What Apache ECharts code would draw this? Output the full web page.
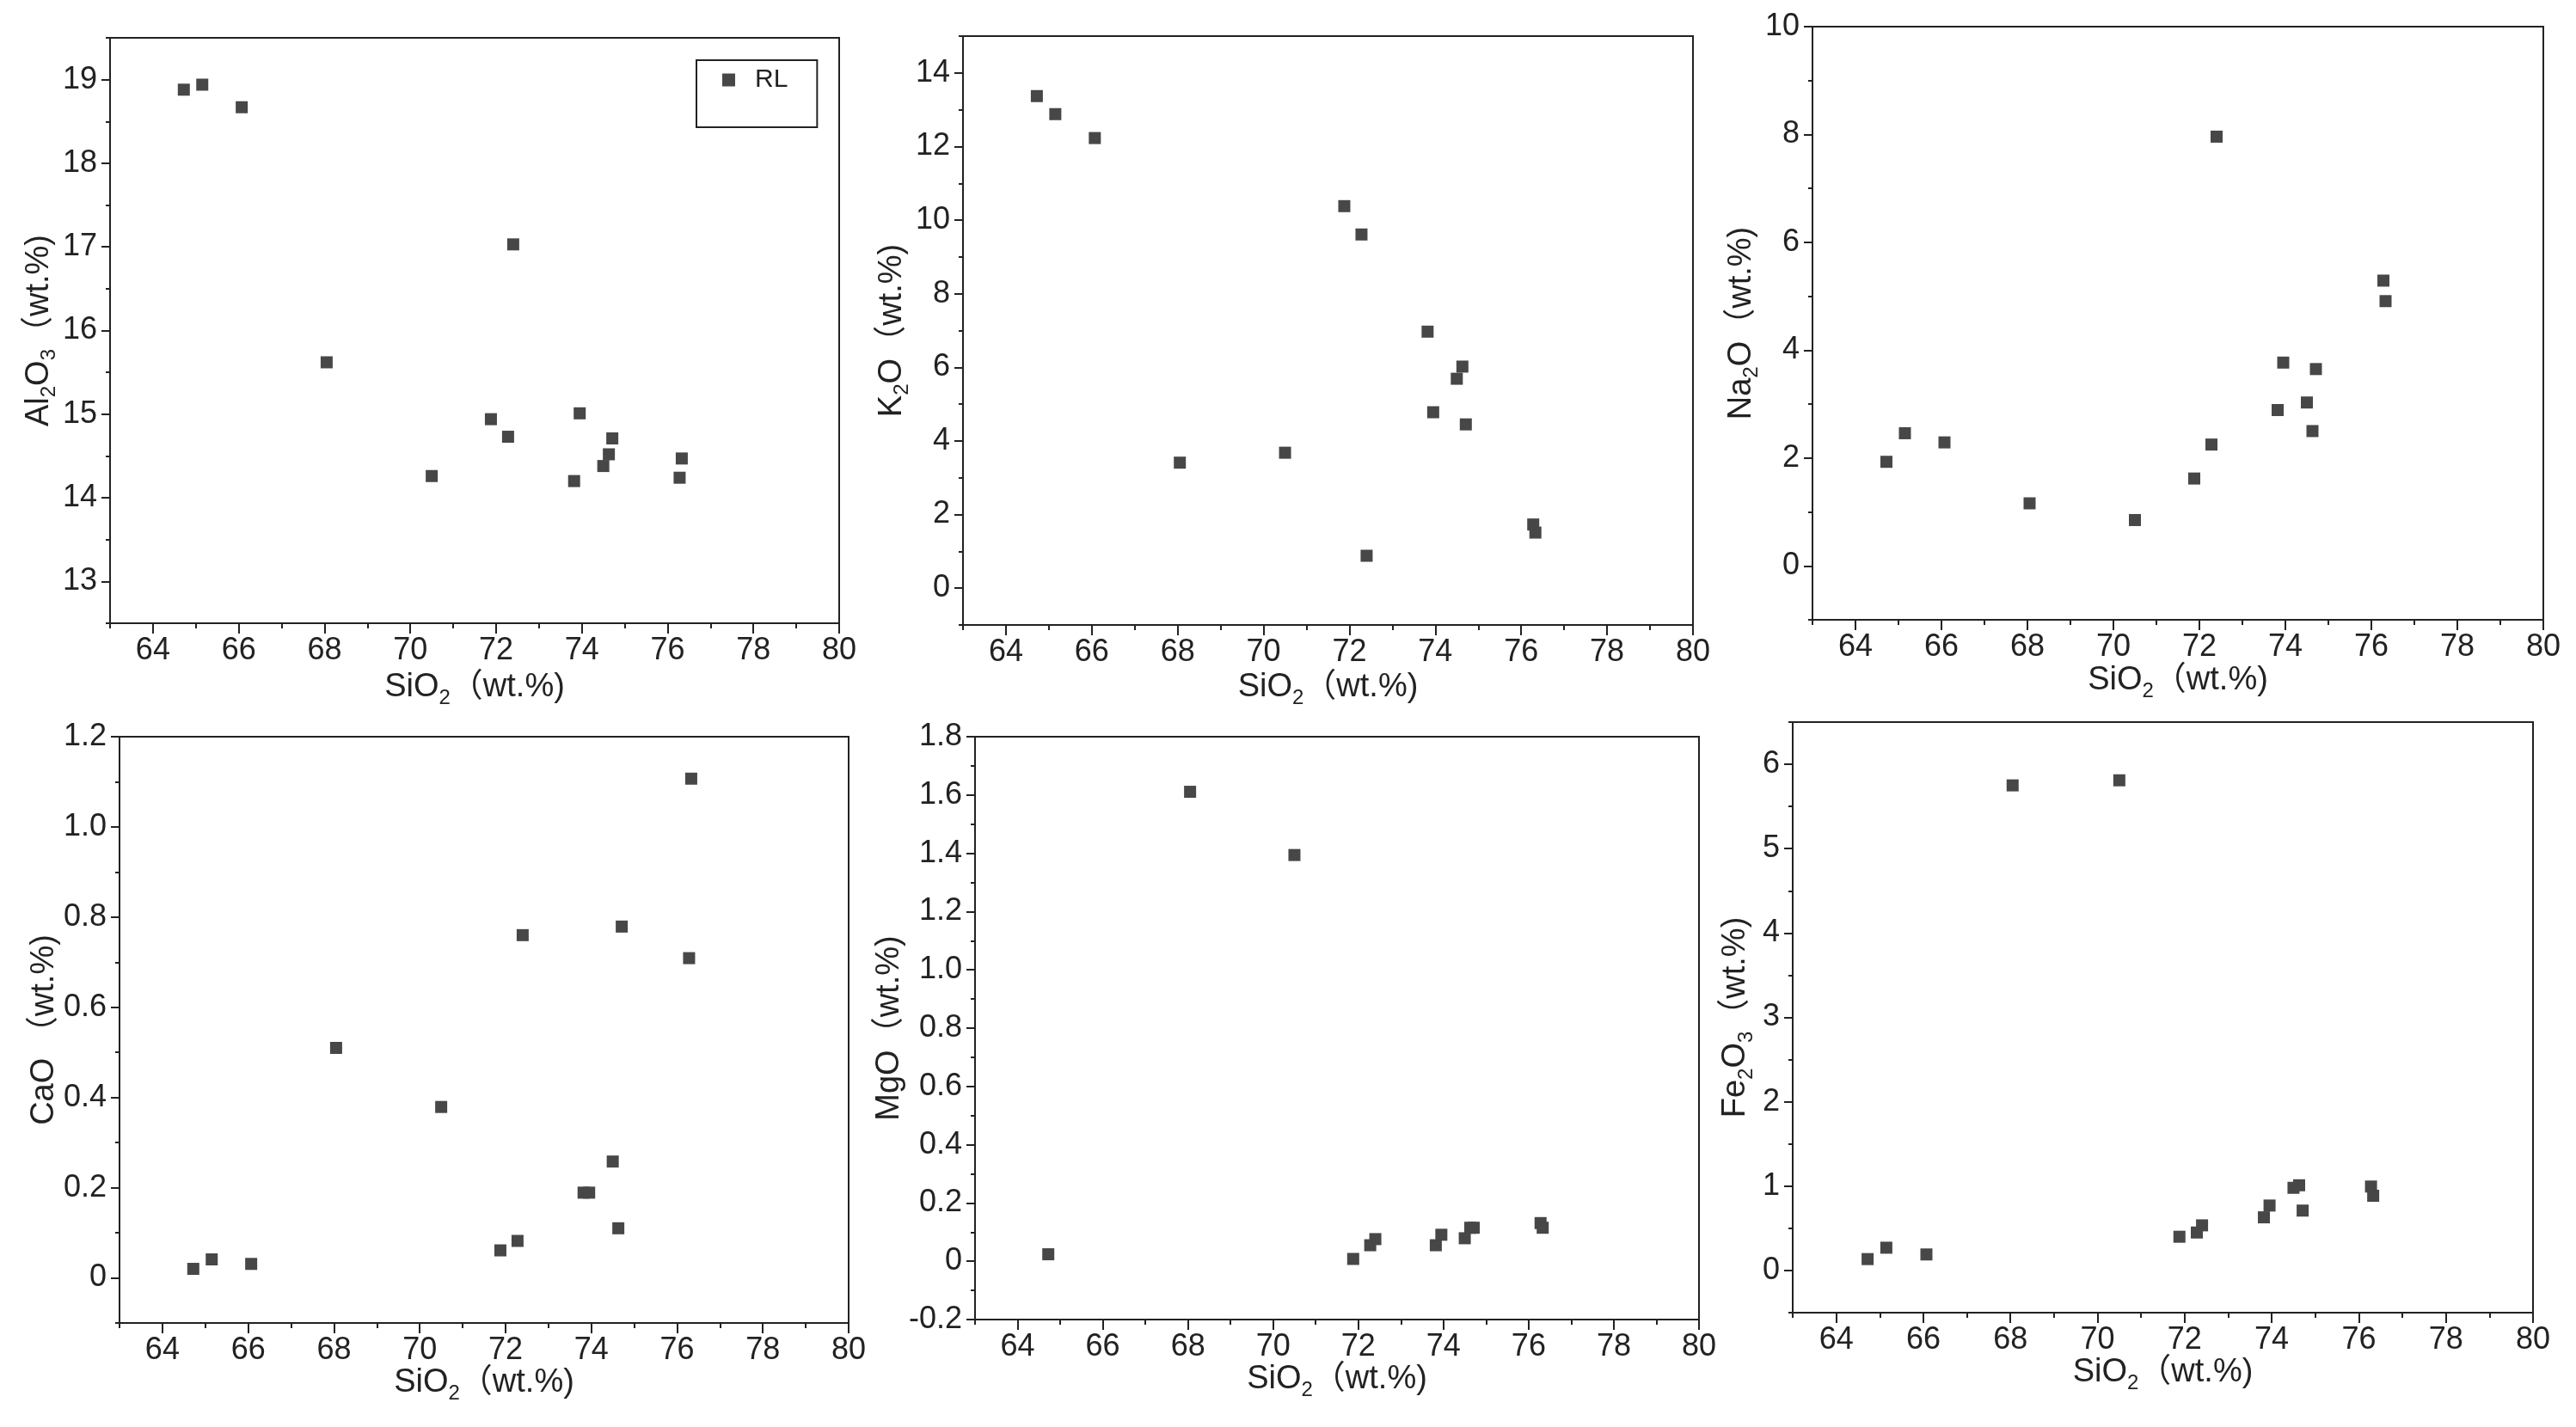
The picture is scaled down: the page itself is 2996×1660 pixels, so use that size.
<!DOCTYPE html>
<html>
<head>
<meta charset="utf-8">
<script src="https://cdn.jsdelivr.net/npm/echarts@6/dist/echarts.min.js"></script>
<style>
html,body{margin:0;padding:0;background:#fff;}
#chart{width:2996px;height:1660px;}
</style>
</head>
<body>
<div id="chart"></div>
<script>
// ---- data ----
const SIO2  = [64.72, 65.15, 66.07, 68.05, 70.50, 71.88, 72.28, 72.40, 73.82, 73.95, 74.50, 74.63, 74.71, 76.28, 76.33];
const AL2O3 = [18.88, 18.94, 18.67, 15.62, 14.26, 14.94, 14.73, 17.03, 14.20, 15.01, 14.38, 14.52, 14.71, 14.24, 14.47];
const K2O   = [13.37, 12.88, 12.23, 3.41, 3.68, 10.38, 9.61, 0.88, 6.97, 4.78, 5.69, 6.02, 4.45, 1.73, 1.51];
const NA2O  = [1.93, 2.46, 2.29, 1.16, 0.85, 1.62, 2.25, 7.96, 2.89, 3.77, 3.03, 2.50, 3.65, 5.29, 4.91];
const CAO   = [0.020, 0.041, 0.031, 0.510, 0.379, 0.061, 0.082, 0.760, 0.189, 0.189, 0.258, 0.110, 0.779, 0.709, 1.107];
const MGO   = [0.024, null, null, 1.611, 1.394, 0.008, 0.055, 0.076, 0.055, 0.091, 0.079, 0.115, 0.115, 0.131, 0.115];
const FE2O3 = [0.135, 0.27, 0.19, 5.75, 5.81, 0.40, 0.45, 0.535, 0.63, 0.77, 0.98, 1.01, 0.71, 0.995, 0.886];

// ---- tick labels ----
const X_TICKS = [64, 66, 68, 70, 72, 74, 76, 78, 80];
const X_MINOR = [63, 65, 67, 69, 71, 73, 75, 77, 79];
const AL2O3_TICKS = [13, 14, 15, 16, 17, 18, 19];
const AL2O3_MINOR = [12.5, 13.5, 14.5, 15.5, 16.5, 17.5, 18.5, 19.5];
const K2O_TICKS = [0, 2, 4, 6, 8, 10, 12, 14];
const K2O_MINOR = [-1, 1, 3, 5, 7, 9, 11, 13, 15];
const NA2O_TICKS = [0, 2, 4, 6, 8, 10];
const NA2O_MINOR = [-1, 1, 3, 5, 7, 9];
const CAO_TICKS = [0, 0.2, 0.4, 0.6, 0.8, 1.0, 1.2];
const CAO_MINOR = [-0.1, 0.1, 0.3, 0.5, 0.7, 0.9, 1.1];
const MGO_TICKS = [-0.2, 0, 0.2, 0.4, 0.6, 0.8, 1.0, 1.2, 1.4, 1.6, 1.8];
const MGO_MINOR = [-0.1, 0.1, 0.3, 0.5, 0.7, 0.9, 1.1, 1.3, 1.5, 1.7];
const FE2O3_TICKS = [0, 1, 2, 3, 4, 5, 6];
const FE2O3_MINOR = [-0.5, 0.5, 1.5, 2.5, 3.5, 4.5, 5.5, 6.5];

const X_NAME = '{n|SiO}{s|2}{n|（wt.%)}';
const SERIES_NAME = 'RL';

// ---- style / layout ----
const FONT = "'Liberation Sans', Arial, 'Noto Sans CJK SC', sans-serif";
const INK = '#222';
const MARK = '#474747';
const RICH = {
  n: {fontSize: 38, lineHeight: 48, fontFamily: FONT, color: INK},
  s: {fontSize: 24, lineHeight: 22, verticalAlign: 'bottom', fontFamily: FONT, color: INK}
};
const int = v => String(v);
const dec = v => (v === 0 ? '0' : v.toFixed(1));

const PANELS = [
  {y: AL2O3, name: '{n|Al}{s|2}{n|O}{s|3}{n|（wt.%)}', min: 12.5, max: 19.5, ticks: AL2O3_TICKS, minor: AL2O3_MINOR, fmt: int,
   grid: {left: 128, top: 44, width: 848, height: 681}, yGap: 51, xGap: 51},
  {y: K2O, name: '{n|K}{s|2}{n|O}{n|（wt.%)}', min: -1, max: 15, ticks: K2O_TICKS, minor: K2O_MINOR, fmt: int,
   grid: {left: 1120, top: 42, width: 849, height: 685}, yGap: 55, xGap: 49},
  {y: NA2O, name: '{n|Na}{s|2}{n|O}{n|（wt.%)}', min: -1, max: 10, ticks: NA2O_TICKS, minor: NA2O_MINOR, fmt: int,
   grid: {left: 2108, top: 31, width: 850, height: 690}, yGap: 40, xGap: 47},
  {y: CAO, name: '{n|CaO （wt.%)}', min: -0.1, max: 1.2, ticks: CAO_TICKS, minor: CAO_MINOR, fmt: dec,
   grid: {left: 139, top: 857, width: 848, height: 682}, yGap: 60, xGap: 42},
  {y: MGO, name: '{n|MgO（wt.%)}', min: -0.2, max: 1.8, ticks: MGO_TICKS, minor: MGO_MINOR, fmt: dec,
   grid: {left: 1134, top: 857, width: 842, height: 678}, yGap: 68, xGap: 46},
  {y: FE2O3, name: '{n|Fe}{s|2}{n|O}{s|3}{n|（wt.%)}', min: -0.5, max: 6.5, ticks: FE2O3_TICKS, minor: FE2O3_MINOR, fmt: int,
   grid: {left: 2085, top: 840, width: 861, height: 687}, yGap: 42, xGap: 46}
];

const grids = [], xAxes = [], yAxes = [], series = [];
const labelStyle = {fontSize: 36, fontFamily: FONT, color: INK};

PANELS.forEach((p, i) => {
  grids.push(Object.assign({show: true, borderColor: INK, borderWidth: 2, containLabel: false}, p.grid));
  xAxes.push({
    type: 'value', gridIndex: i, position: 'bottom', min: 63, max: 80,
    name: X_NAME, nameLocation: 'middle', nameGap: p.xGap,
    nameTextStyle: {rich: RICH, fontFamily: FONT, fontSize: 38, color: INK},
    axisLine: {show: true, onZero: false, lineStyle: {color: INK, width: 2}},
    axisTick: {show: true, inside: false, length: 12, customValues: X_TICKS, lineStyle: {color: INK, width: 2}},
    axisLabel: Object.assign({show: true, customValues: X_TICKS, margin: 14, formatter: int}, labelStyle),
    splitLine: {show: false}
  });
  xAxes.push({
    type: 'value', gridIndex: i, position: 'bottom', min: 63, max: 80,
    axisLine: {show: false, onZero: false},
    axisTick: {show: true, inside: false, length: 6, customValues: X_MINOR, lineStyle: {color: INK, width: 2}},
    axisLabel: {show: false}, splitLine: {show: false}
  });
  yAxes.push({
    type: 'value', gridIndex: i, position: 'left', min: p.min, max: p.max,
    name: p.name, nameLocation: 'middle', nameGap: p.yGap, nameRotate: 90,
    nameTextStyle: {rich: RICH, fontFamily: FONT, fontSize: 38, color: INK},
    axisLine: {show: true, onZero: false, lineStyle: {color: INK, width: 2}},
    axisTick: {show: true, inside: false, length: 10, customValues: p.ticks, lineStyle: {color: INK, width: 2}},
    axisLabel: Object.assign({show: true, customValues: p.ticks, margin: 15, formatter: p.fmt}, labelStyle),
    splitLine: {show: false}
  });
  yAxes.push({
    type: 'value', gridIndex: i, position: 'left', min: p.min, max: p.max,
    axisLine: {show: false, onZero: false},
    axisTick: {show: true, inside: false, length: 5, customValues: p.minor, lineStyle: {color: INK, width: 2}},
    axisLabel: {show: false}, splitLine: {show: false}
  });
  const data = [];
  SIO2.forEach((x, k) => { if (p.y[k] !== null) data.push([x, p.y[k]]); });
  series.push({
    name: SERIES_NAME, type: 'scatter', xAxisIndex: 2 * i, yAxisIndex: 2 * i,
    symbol: 'rect', symbolSize: 14, itemStyle: {color: MARK, opacity: 1},
    data: data, silent: true
  });
});

const chart = echarts.init(document.getElementById('chart'), null, {renderer: 'canvas'});
chart.setOption({
  animation: false,
  backgroundColor: '#fff',
  grid: grids,
  xAxis: xAxes,
  yAxis: yAxes,
  legend: {
    data: [SERIES_NAME], left: 810, top: 70, orient: 'vertical',
    borderColor: INK, borderWidth: 2, padding: [8, 34, 40, 30],
    icon: 'rect', itemWidth: 15, itemHeight: 15, selectedMode: false,
    itemStyle: {color: MARK},
    textStyle: {fontSize: 30, fontFamily: FONT, color: INK, padding: [0, 0, 0, 18]}
  },
  series: series
});
</script>
</body>
</html>
